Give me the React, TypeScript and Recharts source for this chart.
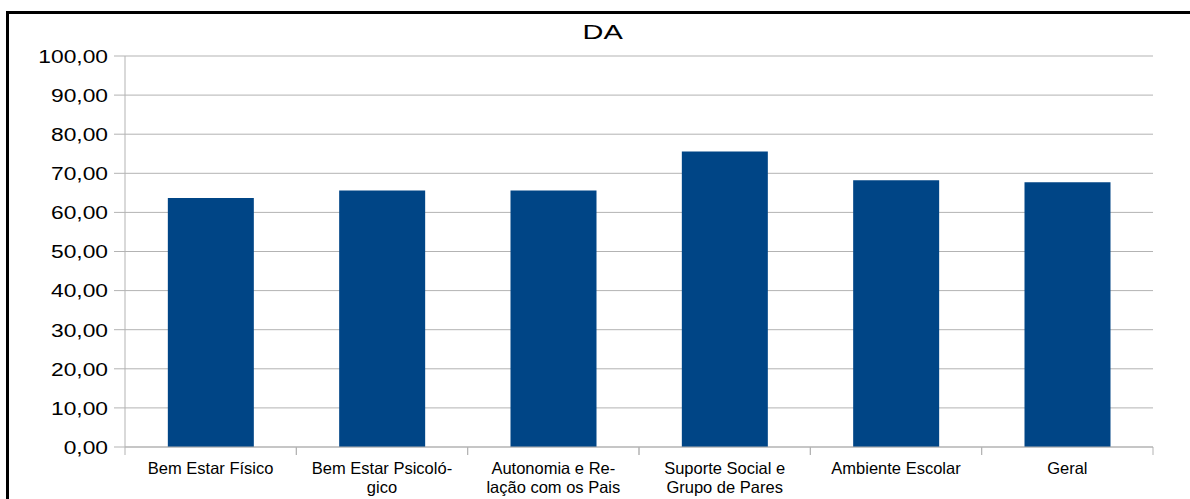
import { BarChart, Bar, XAxis, YAxis, CartesianGrid } from "recharts";

// Domain scores for the "DA" group, one bar per dimension
const categories = [
  "Bem Estar Físico",
  "Bem Estar Psicológico",
  "Autonomia e Relação com os Pais",
  "Suporte Social e Grupo de Pares",
  "Ambiente Escolar",
  "Geral",
];
// Hyphenated two-line labels as they appear under the axis
const tickLabels = [
  ["Bem Estar Físico"],
  ["Bem Estar Psicoló-", "gico"],
  ["Autonomia e Re-", "lação com os Pais"],
  ["Suporte Social e", "Grupo de Pares"],
  ["Ambiente Escolar"],
  ["Geral"],
];
const scores = [63.7, 65.6, 65.6, 75.6, 68.2, 67.7];
const yTicks = [0, 10, 20, 30, 40, 50, 60, 70, 80, 90, 100];

const data = categories.map((name, i) => ({ name, value: scores[i], lines: tickLabels[i] }));

const GRID = "#b3b3b3";
const BAR = "#004586";
const FONT = "'Liberation Sans', Arial, sans-serif";

function YTick(props: any) {
  const { x, y, payload } = props;
  const label = Number(payload.value).toFixed(2).replace(".", ",");
  return (
    <text
      transform={`translate(${x},${y}) scale(1.2,1)`}
      textAnchor="end"
      dy="0.36em"
      fontSize={19}
      fontFamily={FONT}
      fill="#000"
    >
      {label}
    </text>
  );
}

function XTick(props: any) {
  const { x, y, payload, index } = props;
  const half = payload.offset ?? 0;
  const lines = tickLabels[index] ?? [String(payload.value)];
  return (
    <g>
      <line x1={x - half} x2={x - half} y1={y} y2={y + 8} stroke={GRID} strokeWidth={1} />
      <line x1={x + half} x2={x + half} y1={y} y2={y + 8} stroke={GRID} strokeWidth={1} />
      <text textAnchor="middle" fontSize={16.5} fontFamily={FONT} fill="#000">
        {lines.map((l, i) => (
          <tspan key={i} x={x} y={y + 27 + i * 18.5}>
            {l}
          </tspan>
        ))}
      </text>
    </g>
  );
}

export default function App() {
  return (
    <div
      style={{
        position: "absolute",
        top: 0,
        left: 0,
        width: 1190,
        height: 499,
        overflow: "hidden",
        background: "#fff",
      }}
    >
      <div
        style={{
          position: "absolute",
          left: 6,
          top: 11,
          width: 1300,
          height: 600,
          border: "3px solid #000",
          boxSizing: "border-box",
        }}
      />
      <div
        style={{
          position: "absolute",
          left: 0,
          top: 20.5,
          width: 1206,
          textAlign: "center",
          fontFamily: FONT,
          fontSize: 21,
          lineHeight: "21px",
          color: "#000",
        }}
      >
        <span style={{ display: "inline-block", transform: "scaleX(1.38)" }}>DA</span>
      </div>
      <div style={{ position: "absolute", left: 0, top: 0 }}>
        <BarChart
          width={1190}
          height={499}
          data={data}
          margin={{ top: 56, right: 37, bottom: 0, left: 0 }}
          barCategoryGap="25%"
        >
          <CartesianGrid vertical={false} stroke={GRID} strokeWidth={1} />
          <XAxis
            dataKey="name"
            height={52}
            interval={0}
            axisLine={{ stroke: GRID }}
            tickLine={false}
            tickSize={0}
            tickMargin={0}
            tick={<XTick />}
          />
          <YAxis
            width={125}
            domain={[0, 100]}
            ticks={yTicks}
            interval={0}
            axisLine={{ stroke: GRID }}
            tickLine={{ stroke: GRID }}
            tickSize={11}
            tickMargin={6}
            tick={<YTick />}
          />
          <YAxis
            yAxisId="right"
            orientation="right"
            width={0}
            domain={[0, 100]}
            tick={false}
            tickLine={false}
            axisLine={{ stroke: GRID }}
          />
          <Bar dataKey="value" fill={BAR} isAnimationActive={false} />
        </BarChart>
      </div>
    </div>
  );
}
